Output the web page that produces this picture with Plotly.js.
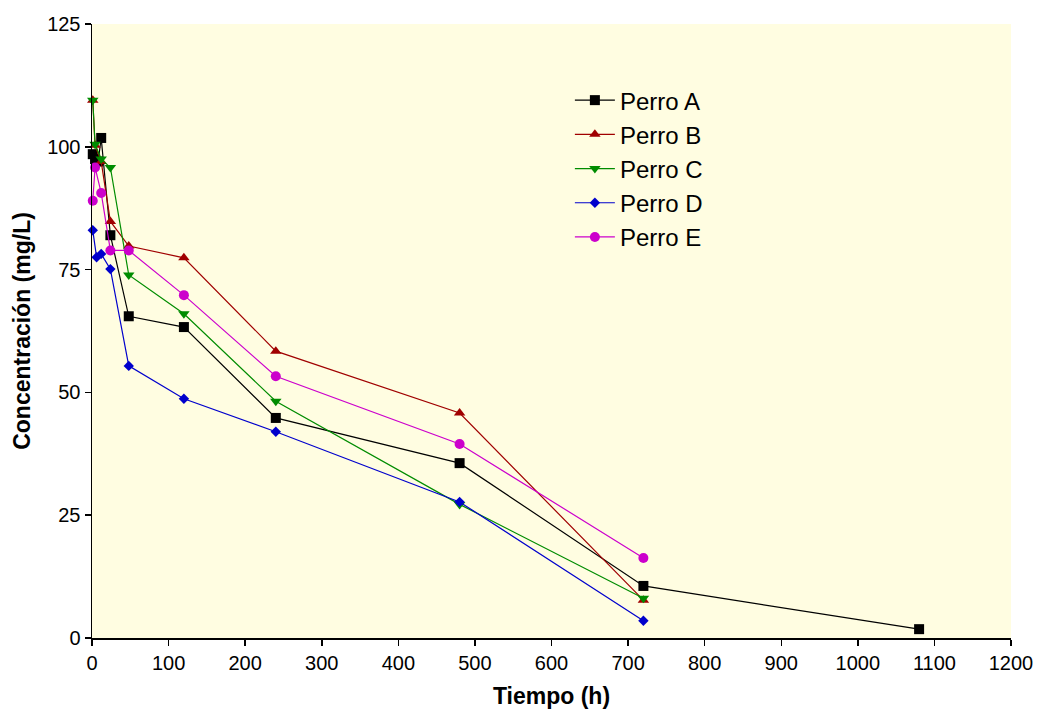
<!DOCTYPE html>
<html>
<head>
<meta charset="utf-8">
<script src="https://cdn.plot.ly/plotly-3.0.1.min.js"></script>
<style>
  html, body { margin: 0; padding: 0; background: #ffffff; }
  #chart { width: 1039px; height: 713px; }
</style>
</head>
<body>
<div id="chart"></div>
<script>
// Concentración plasmática por perro a lo largo del tiempo
const tiempoA = [1, 4, 8, 12, 24, 48, 120, 240, 480, 720, 1080];
const perroA  = [98.5, 97.5, 97, 101.8, 82, 65.5, 63.3, 44.8, 35.6, 10.6, 1.8];

const tiempoB = [1, 4, 12, 24, 48, 120, 240, 480, 720];
const perroB  = [109.5, 100.3, 97, 84.8, 79.8, 77.4, 58.4, 45.8, 7.7];

const tiempoC = [1, 4, 12, 24, 48, 120, 240, 480, 720];
const perroC  = [109.5, 100.5, 97.5, 95.8, 73.9, 66, 48.2, 27.2, 8.1];

const tiempoD = [1, 6, 12, 24, 48, 120, 240, 480, 720];
const perroD  = [83, 77.5, 78.2, 75.1, 55.4, 48.7, 42, 27.7, 3.5];

const tiempoE = [1, 4, 12, 24, 48, 120, 240, 480, 720];
const perroE  = [89, 95.8, 90.6, 78.9, 78.9, 69.8, 53.3, 39.5, 16.3];

const nombres = ['Perro A', 'Perro B', 'Perro C', 'Perro D', 'Perro E'];

const series = [
  {x: tiempoA, y: perroA, color: '#000000', symbol: 'square', size: 10},
  {x: tiempoB, y: perroB, color: '#A00000', symbol: 'triangle-up', size: 10},
  {x: tiempoC, y: perroC, color: '#008C00', symbol: 'triangle-down', size: 10},
  {x: tiempoD, y: perroD, color: '#0000CC', symbol: 'diamond', size: 8},
  {x: tiempoE, y: perroE, color: '#CC00CC', symbol: 'circle', size: 10}
];

const traces = series.map((s, i) => ({
  type: 'scatter',
  mode: 'lines+markers',
  name: nombres[i],
  x: s.x,
  y: s.y,
  cliponaxis: false,
  line: {color: s.color, width: 1.2},
  marker: {color: s.color, symbol: s.symbol, size: s.size}
}));

const font = 'Liberation Sans, Arial, sans-serif';

const layout = {
  width: 1039,
  height: 713,
  margin: {l: 92, r: 28, t: 24, b: 75},
  paper_bgcolor: '#ffffff',
  plot_bgcolor: '#FFFDE1',
  font: {family: font, size: 20, color: '#000000'},
  showlegend: true,
  legend: {
    x: 0.52, y: 0.912, xanchor: 'left', yanchor: 'top',
    bgcolor: 'rgba(0,0,0,0)',
    font: {family: font, size: 24, color: '#000000'},
    itemwidth: 40,
    tracegroupgap: 0
  },
  xaxis: {
    range: [0, 1200],
    dtick: 100,
    tick0: 0,
    showgrid: false,
    zeroline: false,
    showline: true,
    linecolor: '#000000',
    linewidth: 1.5,
    ticks: 'outside',
    ticklen: 6,
    tickwidth: 1.5,
    tickcolor: '#000000',
    tickfont: {family: font, size: 20, color: '#000000'},
    title: {text: '<b>Tiempo (h)</b>', font: {family: font, size: 23, color: '#000000'}, standoff: 15}
  },
  yaxis: {
    range: [0, 125],
    dtick: 25,
    tick0: 0,
    showgrid: false,
    zeroline: false,
    showline: true,
    linecolor: '#000000',
    linewidth: 1.5,
    ticks: 'outside',
    ticklen: 6,
    tickwidth: 1.5,
    tickcolor: '#000000',
    tickfont: {family: font, size: 20, color: '#000000'},
    title: {text: '<b>Concentración (mg/L)</b>', font: {family: font, size: 23, color: '#000000'}, standoff: 10}
  }
};

Plotly.newPlot('chart', traces, layout, {displayModeBar: false, staticPlot: true});
</script>
</body>
</html>
